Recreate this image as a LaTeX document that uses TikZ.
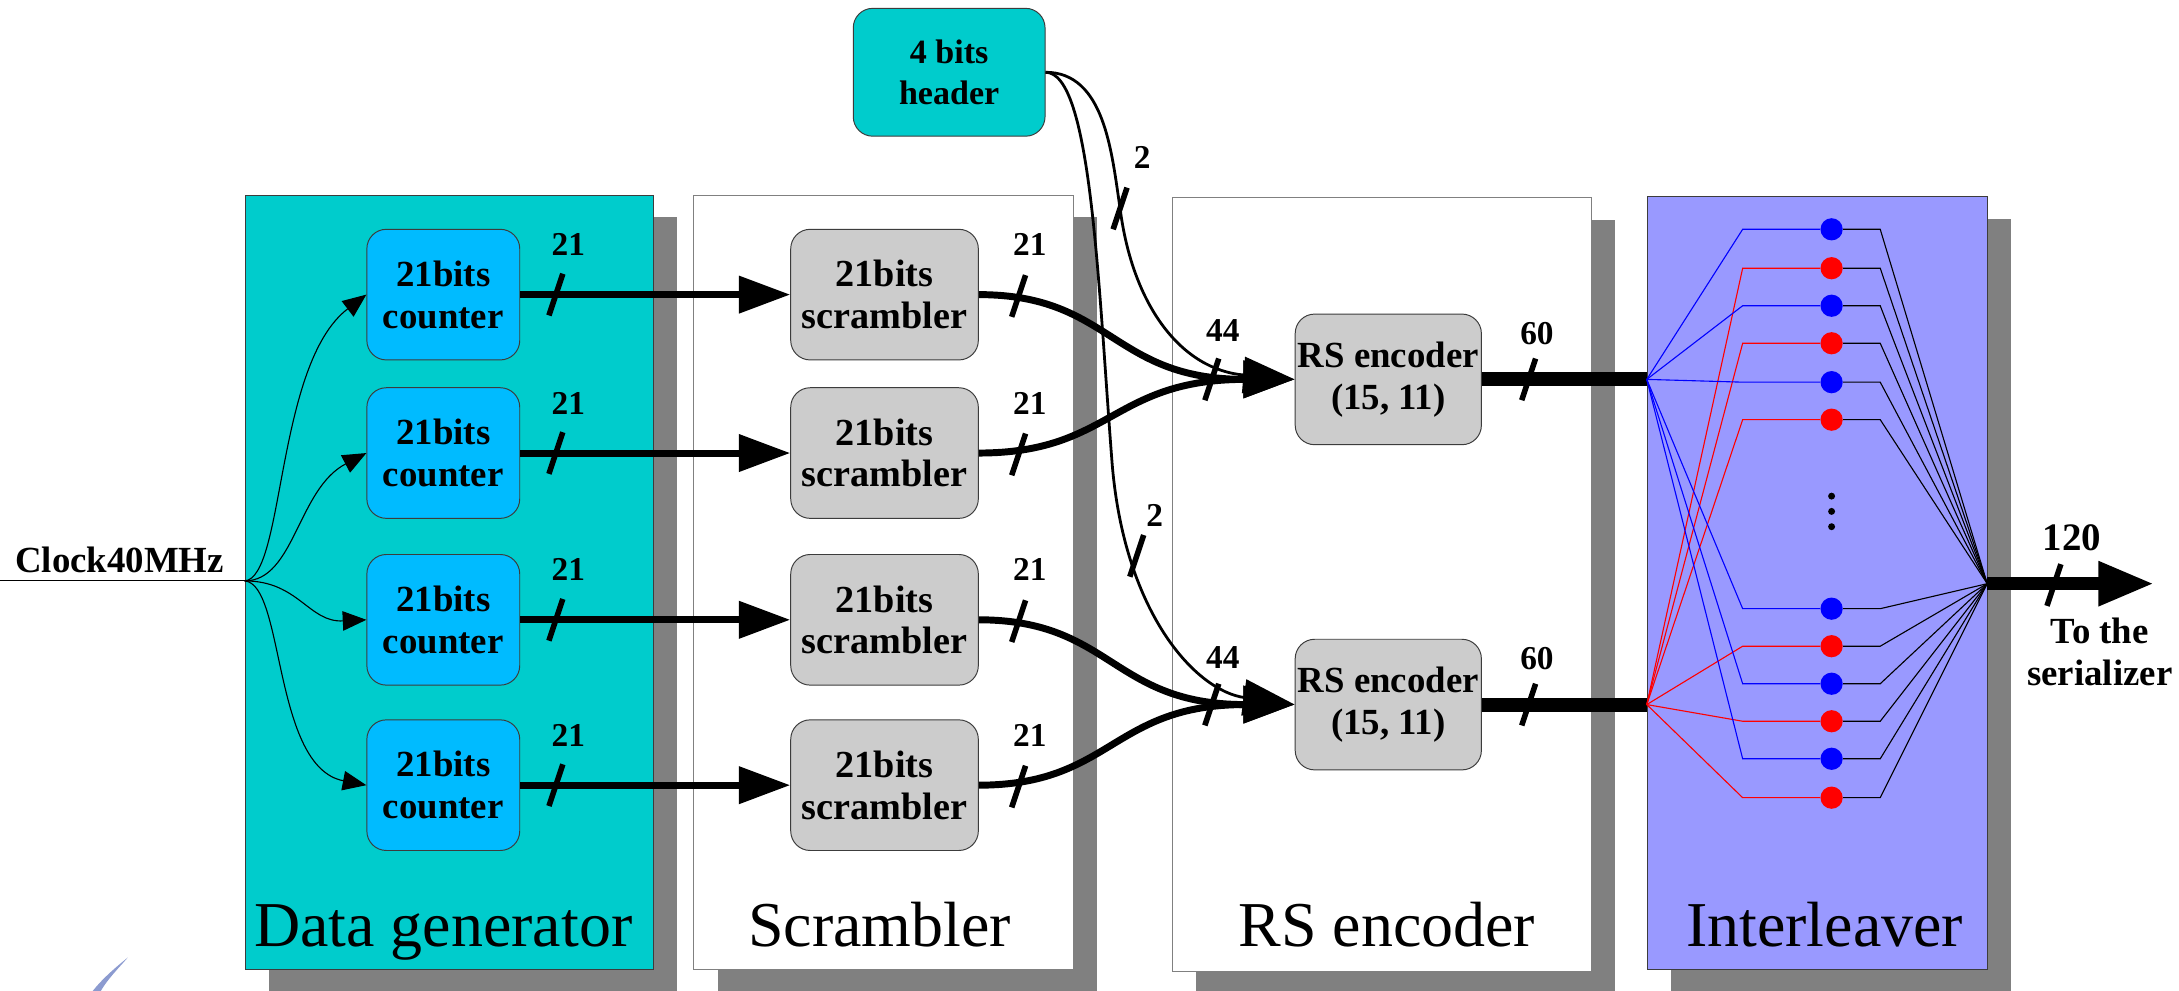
\documentclass[tikz,border=0pt]{standalone}
\usepackage{fontspec}
\setmainfont{Liberation Serif}
\usetikzlibrary{arrows.meta,shadows,calc}

\definecolor{tealfill}{RGB}{0,204,204}
\definecolor{cntfill}{RGB}{0,187,255}
\definecolor{boxgray}{RGB}{204,204,204}
\definecolor{shadegray}{RGB}{128,128,128}
\definecolor{ilfill}{RGB}{153,153,255}
\definecolor{edgecol}{RGB}{60,60,60}
\definecolor{logoblue}{RGB}{140,155,208}

\tikzset{
  panel/.style={draw=edgecol, line width=0.7pt, anchor=north west, inner sep=0pt,
    drop shadow={shadow xshift=17pt, shadow yshift=-16pt, fill=shadegray, opacity=1}},
  paneltitle/.style={anchor=base, inner sep=0pt, font=\fontsize{46}{50}\selectfont},
  blk/.style={draw=edgecol, line width=0.7pt, rounded corners=14pt, minimum width=110pt,
    minimum height=94pt, align=center, inner sep=0pt,
    font=\bfseries\fontsize{26.5}{30}\selectfont},
  lab/.style={inner sep=0pt, font=\bfseries\fontsize{24}{26}\selectfont},
  clockarrow/.style={line width=0.8pt, -{Triangle[length=17pt,width=14pt]}},
  busarrow/.style={line width=5pt, -{Triangle[length=37pt,width=26pt]}},
  hdrarrow/.style={line width=2pt, -{Triangle[length=37pt,width=26pt]}},
  widebus/.style={line width=10pt},
  ilwire/.style={line width=0.8pt},
  ildot/.style={circle, inner sep=0pt, minimum size=16pt, draw=none},
  smalldot/.style={circle, inner sep=0pt, minimum size=5pt, fill=black},
  pics/busslash/.style={code={\draw[line width=4pt] (-5,15) -- (5,-15);}}
}

\begin{document}
\begin{tikzpicture}[x=1pt,y=-1pt]
\useasboundingbox (0,0) rectangle (1568,713);

% faint stroke in the lower left corner
\fill[logoblue] (92,689) .. controls (82,697) and (73,705) .. (66,714)
  -- (72,714) .. controls (77,705) and (85,697) .. (92,689) -- cycle;

% stage panels
\node[panel, fill=tealfill, minimum width=294pt, minimum height=557pt] (pdg) at (176,140) {};
\node[panel, fill=white, draw=gray, minimum width=273pt, minimum height=557pt] (psc) at (499,140) {};
\node[panel, fill=white, draw=gray, minimum width=302pt, minimum height=557pt] (prs) at (843,142) {};
\node[panel, fill=ilfill, minimum width=245pt, minimum height=556pt] (pil) at (1185,141) {};

\node[paneltitle] (tdg) at (319,681) {Data generator};
\node[paneltitle] (tsc) at (633,681) {Scrambler};
\node[paneltitle] (trs) at (998,681) {RS encoder};
\node[paneltitle] (til) at (1313,681) {Interleaver};

% counters and scramblers
\foreach \i/\y in {1/212,2/326,3/446,4/565}{
  \node[blk, fill=cntfill] (c\i) at (319,\y) {21bits\\counter};
  \node[blk, fill=boxgray, minimum width=135pt,
        font=\bfseries\fontsize{27.5}{30}\selectfont] (s\i) at (636.5,\y) {21bits\\scrambler};
  \draw[busarrow] (c\i.east) -- (s\i.west);
  \pic at (400,\y) {busslash};
  \pic at (733,\y+1) {busslash};
  \node[lab] (lc\i) at (409,\y-36) {21};
  \node[lab] (ls\i) at (741,\y-36) {21};
}

% header block
\node[blk, fill=tealfill, minimum width=138pt, minimum height=92pt,
      font=\bfseries\fontsize{24.5}{29}\selectfont] (hdr) at (683,52) {4 bits\\header};

% RS encoders
\node[blk, fill=boxgray, minimum width=134pt] (rs1) at (999,273) {RS encoder\\(15, 11)};
\node[blk, fill=boxgray, minimum width=134pt] (rs2) at (999,507) {RS encoder\\(15, 11)};

% clock distribution
\coordinate (clk) at (0,418);
\coordinate (split) at (176,418);
\node[lab, anchor=base, font=\bfseries\fontsize{26.5}{28}\selectfont] (clklab) at (86,412) {Clock40MHz};
\draw[line width=0.8pt] (clk) -- (split);
\draw[clockarrow] (split) .. controls (205,416) and (198,262) .. (c1.west);
\draw[clockarrow] (split) .. controls (212,418) and (214,352) .. (c2.west);
\draw[clockarrow] (split) .. controls (215,418) and (222,448) .. (c3.west);
\draw[clockarrow] (split) .. controls (205,420) and (196,552) .. (c4.west);

% scrambler outputs merged into the encoders
\draw[busarrow] (s1.east) .. controls (800,212) and (800,273) .. (rs1.west);
\draw[busarrow] (s2.east) .. controls (800,326) and (800,273) .. (rs1.west);
\draw[busarrow] (s3.east) .. controls (800,446) and (800,507) .. (rs2.west);
\draw[busarrow] (s4.east) .. controls (800,565) and (800,507) .. (rs2.west);

% header bits to each encoder
\draw[hdrarrow] (hdr.east) .. controls (795,52) and (800,110) .. (806,150)
  .. controls (815,220) and (850,266) .. (rs1.west);
\draw[hdrarrow] (hdr.east) .. controls (785,52) and (790,200) .. (800,330)
  .. controls (808,440) and (860,497) .. (rs2.west);
\pic at (806,150) {busslash};
\node[lab] (lh1) at (822,113) {2};
\pic at (818,400) {busslash};
\node[lab] (lh2) at (831,371) {2};

\pic at (872,273) {busslash};
\node[lab] (l44a) at (880,238) {44};
\pic at (872,507) {busslash};
\node[lab] (l44b) at (880,473) {44};

% encoder outputs
\coordinate (inT) at (1185,273);
\coordinate (inB) at (1185,507);
\draw[widebus] (rs1.east) -- (inT);
\draw[widebus] (rs2.east) -- (inB);
\pic at (1100,273) {busslash};
\node[lab] (l60a) at (1106,240) {60};
\pic at (1100,507) {busslash};
\node[lab] (l60b) at (1106,474) {60};

% interleaver
\coordinate (outP) at (1430,420);
\foreach \i/\y/\c/\src in {1/165/blue/inT, 2/193/red/inB, 3/220/blue/inT, 4/247/red/inB,
                           5/275/blue/inT, 6/302/red/inB, 7/438/blue/inT, 8/465/red/inB,
                           9/492/blue/inT, 10/519/red/inB, 11/546/blue/inT, 12/574/red/inB}{
  \node[ildot, fill=\c] (d\i) at (1318,\y) {};
  \draw[ilwire, \c] (\src) -- (1254,\y) -- (d\i);
  \draw[ilwire, black] (d\i) -- (1353,\y) -- (outP);
}
\node[smalldot] (v1) at (1318,357) {};
\node[smalldot] (v2) at (1318,368) {};
\node[smalldot] (v3) at (1318,379) {};

% serial output
\coordinate (serEnd) at (1550,420);
\draw[line width=9pt, -{Triangle[length=40pt,width=30pt]}] (outP) -- (serEnd);
\pic at (1478,421) {busslash};
\node[lab, font=\bfseries\fontsize{28}{30}\selectfont] (l120) at (1491,387) {120};
\node[lab, align=center, font=\bfseries\fontsize{26.5}{30}\selectfont] (ser) at (1511,469) {To the\\serializer};
\end{tikzpicture}
\end{document}
